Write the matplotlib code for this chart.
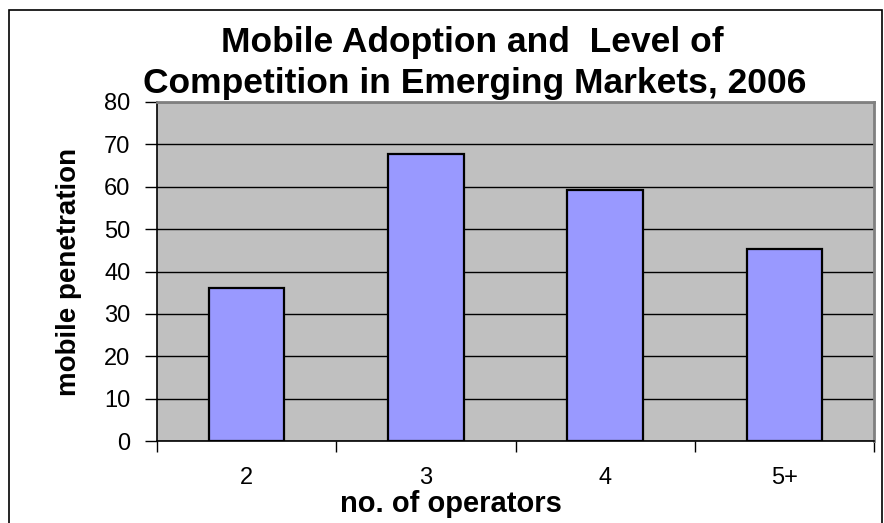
import matplotlib
matplotlib.use("Agg")
import matplotlib.pyplot as plt
from matplotlib.patches import Rectangle
import numpy as np

categories = ["2", "3", "4", "5+"]
penetration = [36.2, 67.8, 59.3, 45.3]
yticks = [0, 10, 20, 30, 40, 50, 60, 70, 80]

W, H = 884, 523
plt.rcParams['font.family'] = ['Liberation Sans', 'DejaVu Sans']
fig = plt.figure(figsize=(W / 100, H / 100), dpi=100)

L, R, T, B = 157, 874, 102, 441
ax = fig.add_axes([L / W, 1 - B / H, (R - L) / W, (B - T) / H])
ax.set_facecolor("#C0C0C0")

x = np.arange(len(categories))
ax.bar(x, penetration, width=0.42, color="#9999FF", edgecolor="black", linewidth=1.6, zorder=3)

ax.set_xlim(-0.5, len(categories) - 0.5)
ax.set_ylim(0, 80)
ax.set_yticks(yticks)
ax.set_yticklabels([str(v) for v in yticks], fontsize=17)
ax.yaxis.grid(True, color="black", linewidth=1.0, zorder=1)
ax.set_axisbelow(True)
ax.tick_params(axis="y", length=9, width=1, pad=10, color="black")

bounds = np.arange(len(categories) + 1) - 0.5
ax.set_xticks(bounds)
ax.set_xticklabels([""] * len(bounds))
ax.tick_params(axis="x", which="major", length=8, width=1)
ax.set_xticks(x, minor=True)
ax.set_xticklabels(categories, minor=True, fontsize=17)
ax.tick_params(axis="x", which="minor", length=0, pad=19)

for s in ["top", "right"]:
    ax.spines[s].set_color("#808080")
    ax.spines[s].set_linewidth(2)
for s in ["left", "bottom"]:
    ax.spines[s].set_color("black")
    ax.spines[s].set_linewidth(1.2)

ax.set_xlabel("no. of operators", fontsize=21, fontweight="bold")
ax.xaxis.label.set_va("baseline")
ax.xaxis.set_label_coords((451 - L) / (R - L), (B - 512) / (B - T))
ax.set_ylabel("mobile penetration", fontsize=20, fontweight="bold")
ax.yaxis.label.set_va("center")
ax.yaxis.label.set_ha("center")
ax.yaxis.set_label_coords((69 - L) / (R - L), (B - 272) / (B - T))

fig.text(472 / W, 1 - 52 / H, "Mobile Adoption and  Level of",
         ha="center", va="baseline", fontsize=25.5, fontweight="bold")
fig.text(475 / W, 1 - 93 / H, "Competition in Emerging Markets, 2006",
         ha="center", va="baseline", fontsize=25.5, fontweight="bold")

fig.patches.append(Rectangle((9 / W, -0.05), (882 - 9) / W, 1.05 - 10 / H,
                             transform=fig.transFigure, fill=False, edgecolor="black", linewidth=1.2))

fig.savefig("out.png", dpi=100)
